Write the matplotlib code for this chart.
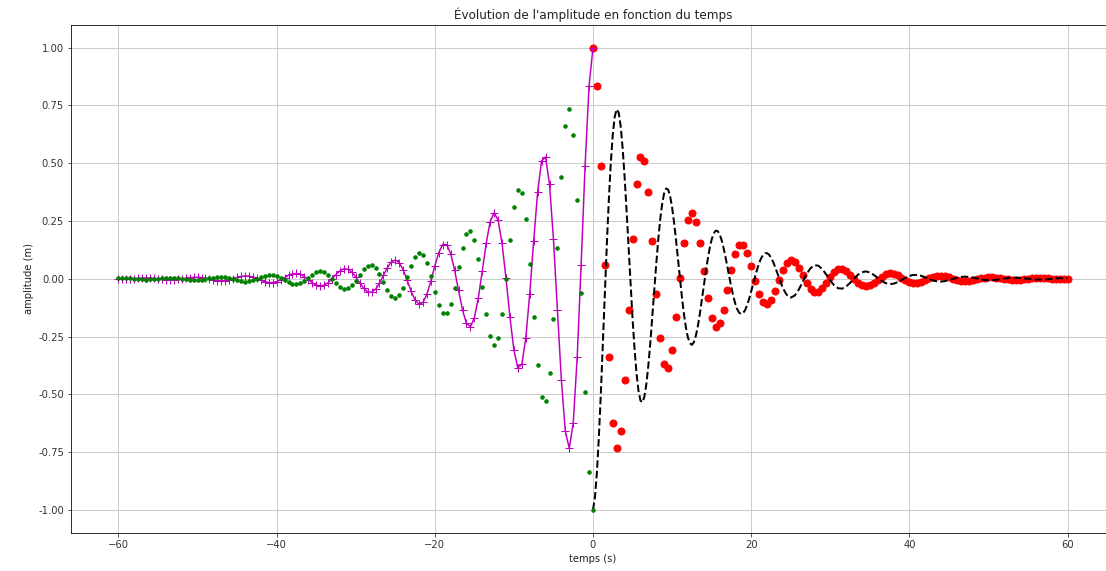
import numpy as np
import matplotlib
matplotlib.use("Agg")
import matplotlib.pyplot as plt

# time grids (s)
t_left = np.linspace(-60, 0, 121)
t_right = np.linspace(0, 60, 121)
t_dash = np.concatenate([np.linspace(0, 25, 101), np.linspace(25.5, 60, 70)])

# amplitudes (m)
magenta_y = [
    -0.0024,
    -0.0026, -0.0021, -0.0011, 0.0004, 0.0018, 0.0030, 0.0035, 0.0032, 0.0019, 0.0001,
    -0.0020, -0.0037, -0.0047, -0.0046, -0.0032, -0.0009, 0.0019, 0.0045, 0.0062, 0.0065,
    0.0051, 0.0022, -0.0015, -0.0053, -0.0080, -0.0090, -0.0078, -0.0043, 0.0006, 0.0058,
    0.0101, 0.0123, 0.0114, 0.0075, 0.0013, -0.0060, -0.0125, -0.0164, -0.0164, -0.0122,
    -0.0044, 0.0054, 0.0148, 0.0214, 0.0231, 0.0189, 0.0094, -0.0035, -0.0169, -0.0273,
    -0.0317, -0.0283, -0.0172, -0.0005, 0.0181, 0.0340, 0.0427, 0.0412, 0.0288, 0.0077,
    -0.0177, -0.0412, -0.0564, -0.0585, -0.0457, -0.0196, 0.0143, 0.0480, 0.0729, 0.0814,
    0.0696, 0.0385, -0.0059, -0.0534, -0.0920, -0.1108, -0.1027, -0.0671, -0.0102, 0.0552,
    0.1132, 0.1479, 0.1477, 0.1091, 0.0381, -0.0503, -0.1349, -0.1934, -0.2077, -0.1695,
    -0.0833, 0.0337, 0.1542, 0.2473, 0.2859, 0.2542, 0.1530, 0.0015, -0.1664, -0.3087,
    -0.3856, -0.3704, -0.2573, -0.0654, 0.1637, 0.3744, 0.5098, 0.5269, 0.4089, 0.1721,
    -0.1344, -0.4381, -0.6599, -0.7334, -0.6239, -0.3407, 0.0609, 0.4889, 0.8348, 1.0000,
]

green_y = [
    0.0024,
    0.0026, 0.0021, 0.0011, -0.0004, -0.0018, -0.0030, -0.0035, -0.0032, -0.0019, -0.0001,
    0.0020, 0.0037, 0.0047, 0.0046, 0.0032, 0.0009, -0.0019, -0.0045, -0.0062, -0.0065,
    -0.0051, -0.0022, 0.0015, 0.0053, 0.0080, 0.0090, 0.0078, 0.0043, -0.0006, -0.0058,
    -0.0101, -0.0123, -0.0114, -0.0075, -0.0013, 0.0060, 0.0125, 0.0164, 0.0164, 0.0122,
    0.0044, -0.0054, -0.0148, -0.0214, -0.0231, -0.0189, -0.0094, 0.0035, 0.0169, 0.0273,
    0.0317, 0.0283, 0.0172, 0.0005, -0.0181, -0.0340, -0.0427, -0.0412, -0.0288, -0.0077,
    0.0177, 0.0412, 0.0564, 0.0585, 0.0457, 0.0196, -0.0143, -0.0480, -0.0729, -0.0814,
    -0.0696, -0.0385, 0.0059, 0.0534, 0.0920, 0.1108, 0.1027, 0.0671, 0.0102, -0.0552,
    -0.1132, -0.1479, -0.1477, -0.1091, -0.0381, 0.0503, 0.1349, 0.1934, 0.2077, 0.1695,
    0.0833, -0.0337, -0.1542, -0.2473, -0.2859, -0.2542, -0.1530, -0.0015, 0.1664, 0.3087,
    0.3856, 0.3704, 0.2573, 0.0654, -0.1637, -0.3744, -0.5098, -0.5269, -0.4089, -0.1721,
    0.1344, 0.4381, 0.6599, 0.7334, 0.6239, 0.3407, -0.0609, -0.4889, -0.8348, -1.0000,
]

red_y = [
    1.0000, 0.8348, 0.4889, 0.0609, -0.3407, -0.6239, -0.7334, -0.6599, -0.4381, -0.1344,
    0.1721, 0.4089, 0.5269, 0.5098, 0.3744, 0.1637, -0.0654, -0.2573, -0.3704, -0.3856,
    -0.3087, -0.1664, 0.0015, 0.1530, 0.2542, 0.2859, 0.2473, 0.1542, 0.0337, -0.0833,
    -0.1695, -0.2077, -0.1934, -0.1349, -0.0503, 0.0381, 0.1091, 0.1477, 0.1479, 0.1132,
    0.0552, -0.0102, -0.0671, -0.1027, -0.1108, -0.0920, -0.0534, -0.0059, 0.0385, 0.0696,
    0.0814, 0.0729, 0.0480, 0.0143, -0.0196, -0.0457, -0.0585, -0.0564, -0.0412, -0.0177,
    0.0077, 0.0288, 0.0412, 0.0427, 0.0340, 0.0181, -0.0005, -0.0172, -0.0283, -0.0317,
    -0.0273, -0.0169, -0.0035, 0.0094, 0.0189, 0.0231, 0.0214, 0.0148, 0.0054, -0.0044,
    -0.0122, -0.0164, -0.0164, -0.0125, -0.0060, 0.0013, 0.0075, 0.0114, 0.0123, 0.0101,
    0.0058, 0.0006, -0.0043, -0.0078, -0.0090, -0.0080, -0.0053, -0.0015, 0.0022, 0.0051,
    0.0065, 0.0062, 0.0045, 0.0019, -0.0009, -0.0032, -0.0046, -0.0047, -0.0037, -0.0020,
    0.0001, 0.0019, 0.0032, 0.0035, 0.0030, 0.0018, 0.0004, -0.0011, -0.0021, -0.0026,
    -0.0024,
]

dash_y = [
    -1.0000, -0.9450, -0.8348, -0.6788, -0.4889, -0.2783, -0.0609, 0.1496, 0.3407, 0.5016,
    0.6239, 0.7021, 0.7334, 0.7183, 0.6599, 0.5640, 0.4381, 0.2916, 0.1344, -0.0234,
    -0.1721, -0.3029, -0.4089, -0.4846, -0.5269, -0.5350, -0.5098, -0.4547, -0.3744, -0.2751,
    -0.1637, -0.0478, 0.0654, 0.1691, 0.2573, 0.3255, 0.3704, 0.3905, 0.3856, 0.3574,
    0.3087, 0.2434, 0.1664, 0.0830, -0.0015, -0.0817, -0.1530, -0.2115, -0.2542, -0.2792,
    -0.2859, -0.2747, -0.2473, -0.2061, -0.1542, -0.0955, -0.0337, 0.0271, 0.0833, 0.1316,
    0.1695, 0.1952, 0.2077, 0.2068, 0.1934, 0.1687, 0.1349, 0.0945, 0.0503, 0.0051,
    -0.0381, -0.0769, -0.1091, -0.1331, -0.1477, -0.1526, -0.1479, -0.1343, -0.1132, -0.0862,
    -0.0552, -0.0224, 0.0102, 0.0406, 0.0671, 0.0881, 0.1027, 0.1103, 0.1108, 0.1045,
    0.0920, 0.0746, 0.0534, 0.0300, 0.0059, -0.0174, -0.0385, -0.0562, -0.0696, -0.0781,
    -0.0814,
    -0.0729, -0.0480, -0.0143, 0.0196, 0.0457, 0.0585, 0.0564, 0.0412, 0.0177,
    -0.0077, -0.0288, -0.0412, -0.0427, -0.0340, -0.0181, 0.0005, 0.0172, 0.0283, 0.0317,
    0.0273, 0.0169, 0.0035, -0.0094, -0.0189, -0.0231, -0.0214, -0.0148, -0.0054, 0.0044,
    0.0122, 0.0164, 0.0164, 0.0125, 0.0060, -0.0013, -0.0075, -0.0114, -0.0123, -0.0101,
    -0.0058, -0.0006, 0.0043, 0.0078, 0.0090, 0.0080, 0.0053, 0.0015, -0.0022, -0.0051,
    -0.0065, -0.0062, -0.0045, -0.0019, 0.0009, 0.0032, 0.0046, 0.0047, 0.0037, 0.0020,
    -0.0001, -0.0019, -0.0032, -0.0035, -0.0030, -0.0018, -0.0004, 0.0011, 0.0021, 0.0026,
    0.0024,
]

title = "Évolution de l'amplitude en fonction du temps"
xlabel = "temps (s)"
ylabel = "amplitude (m)"

W, H = 1106, 571
fig = plt.figure(figsize=(W / 72, H / 72), dpi=72)
ax = fig.add_axes([71 / W, (H - 533) / H, (1115 - 71) / W, (533 - 24.5) / H])

ax.plot(t_right, red_y, "o", color="red", markersize=7, zorder=2)
ax.plot(t_dash, dash_y, "--", color="black", linewidth=2, zorder=3)
ax.plot(t_left, magenta_y, "-+", color="m", linewidth=1.5, markersize=8, zorder=4)
ax.plot(t_left, green_y, ".", color="green", markersize=7, zorder=5)

ax.set_xlim(-66, 66)
ax.set_ylim(-1.1, 1.1)
ax.set_xticks([-60, -40, -20, 0, 20, 40, 60])
ax.set_yticks([-1.0, -0.75, -0.5, -0.25, 0.0, 0.25, 0.5, 0.75, 1.0])
ax.yaxis.set_major_formatter(matplotlib.ticker.FormatStrFormatter("%.2f"))
ax.spines["right"].set_visible(False)
ax.grid(True, color="#cccccc", linewidth=1)
ax.set_axisbelow(True)
ax.tick_params(labelsize=10, colors="#333333")
ax.set_title(title, fontsize=12, color="#222222")
ax.set_xlabel(xlabel, fontsize=10, color="#222222")
ax.set_ylabel(ylabel, fontsize=10, color="#222222")

fig.savefig("out.png", dpi=72)
